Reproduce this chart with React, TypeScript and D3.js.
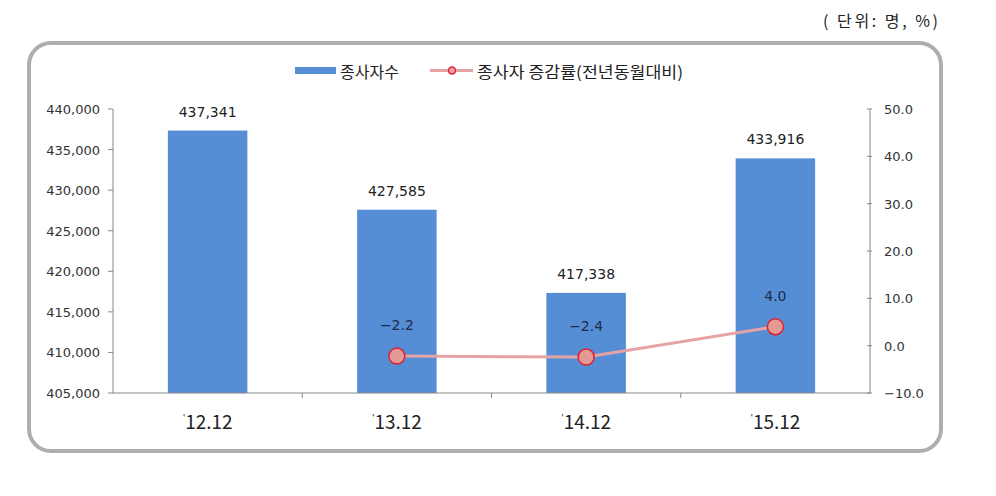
import React from "react";
import * as d3 from "d3";

const categories = ["'12.12", "'13.12", "'14.12", "'15.12"];
const workers = [437341, 427585, 417338, 433916];
const rateCats = ["'13.12", "'14.12", "'15.12"];
const rates = [-2.2, -2.4, 4.0];
const leftTicks = [405000, 410000, 415000, 420000, 425000, 430000, 435000, 440000];
const rightTicks = [-10, 0, 10, 20, 30, 40, 50];

const W = 996, H = 496;
const plotL = 113, plotR = 870, plotT = 109, plotB = 393;

export default function App() {
  const xOuter = d3.scaleBand<string>().domain(categories).range([plotL, plotR]);
  const yL = d3.scaleLinear().domain([405000, 440000]).range([plotB, plotT]);
  const yR = d3.scaleLinear().domain([-10, 50]).range([plotB, plotT]);
  const cx = (c: string) => (xOuter(c) as number) + xOuter.bandwidth() / 2;
  const fmt = d3.format(",");
  const fmtR = (v: number) => (v < 0 ? "−" + Math.abs(v).toFixed(1) : v.toFixed(1));
  const line = d3.line<number>().x((_, i) => cx(rateCats[i])).y((d) => yR(d));
  const numFont = "'DejaVu Sans', Verdana, sans-serif";
  const krFont = "'Noto Sans CJK KR', sans-serif";
  const barW = xOuter.bandwidth() * 0.42;

  return (
    <svg width={W} height={H} style={{ position: "absolute", left: 0, top: 0, background: "#fff" }}>
      <text x={823} y={27} textLength={115} lengthAdjust="spacing" fontFamily={krFont} fontSize={16} fill="#222">( 단위: 명, %)</text>
      <rect x={29} y={43} width={912} height={408} rx={22} ry={22} fill="#fff" stroke="#aeaeae" strokeWidth={4} />

      {/* legend */}
      <rect x={295} y={67} width={41} height={7} fill="#558ed5" />
      <text x={340} y={78} fontFamily={krFont} fontSize={16} fill="#222">종사자수</text>
      <line x1={430} y1={70.5} x2={473} y2={70.5} stroke="#e6a3a3" strokeWidth={3} />
      <circle cx={452} cy={70.5} r={3.5} fill="#e6a3a3" stroke="#e02030" strokeWidth={1.5} />
      <text x={477} y={78} fontFamily={krFont} fontSize={16} fill="#222" textLength={206} lengthAdjust="spacingAndGlyphs">종사자 증감률(전년동월대비)</text>

      {/* left axis */}
      <line x1={plotL} y1={plotT} x2={plotL} y2={plotB} stroke="#888" />
      {leftTicks.map((t) => (
        <g key={t}>
          <line x1={plotL - 5} x2={plotL} y1={yL(t)} y2={yL(t)} stroke="#888" />
          <text x={plotL - 13} y={yL(t) + 5} textAnchor="end" fontFamily={numFont} fontSize={13} fill="#333">{fmt(t)}</text>
        </g>
      ))}

      {/* right axis */}
      <line x1={plotR} y1={plotT} x2={plotR} y2={plotB} stroke="#888" />
      {rightTicks.map((t) => (
        <g key={t}>
          <line x1={plotR - 3} x2={plotR + 2} y1={yR(t)} y2={yR(t)} stroke="#888" />
          <text x={plotR + 14} y={yR(t) + 5} textAnchor="start" fontFamily={numFont} fontSize={13} fill="#333">{fmtR(t)}</text>
        </g>
      ))}

      {/* bars */}
      {categories.map((c, i) => (
        <g key={c}>
          <rect x={cx(c) - barW / 2} y={yL(workers[i])} width={barW} height={plotB - yL(workers[i])} fill="#558ed5" />
          <text x={cx(c)} y={yL(workers[i]) - 14} textAnchor="middle" fontFamily={numFont} fontSize={14} fill="#222">{fmt(workers[i])}</text>
        </g>
      ))}

      {/* x axis */}
      <line x1={plotL} y1={plotB} x2={plotR} y2={plotB} stroke="#888" />
      {categories.slice(1).map((c) => (
        <line key={c} x1={xOuter(c) as number} x2={xOuter(c) as number} y1={plotB} y2={plotB + 5} stroke="#888" />
      ))}
      {categories.map((c) => (
        <text key={c} x={cx(c)} y={429} textAnchor="middle" fontFamily={krFont} fontSize={19} fill="#222">
          <tspan fontSize={9} dy={-8}>'</tspan>
          <tspan dy={8}>{c.slice(1)}</tspan>
        </text>
      ))}

      {/* rate line */}
      <path d={line(rates) || ""} fill="none" stroke="#e6a3a3" strokeWidth={3} />
      {rates.map((r, i) => (
        <g key={i}>
          <circle cx={cx(rateCats[i])} cy={yR(r)} r={8} fill="#e49a94" stroke="#e02030" strokeWidth={1.5} />
          <text x={cx(rateCats[i])} y={yR(r) - 26} textAnchor="middle" fontFamily={numFont} fontSize={14} fill="#1f2a4a">
            {fmtR(r)}
          </text>
        </g>
      ))}
    </svg>
  );
}
